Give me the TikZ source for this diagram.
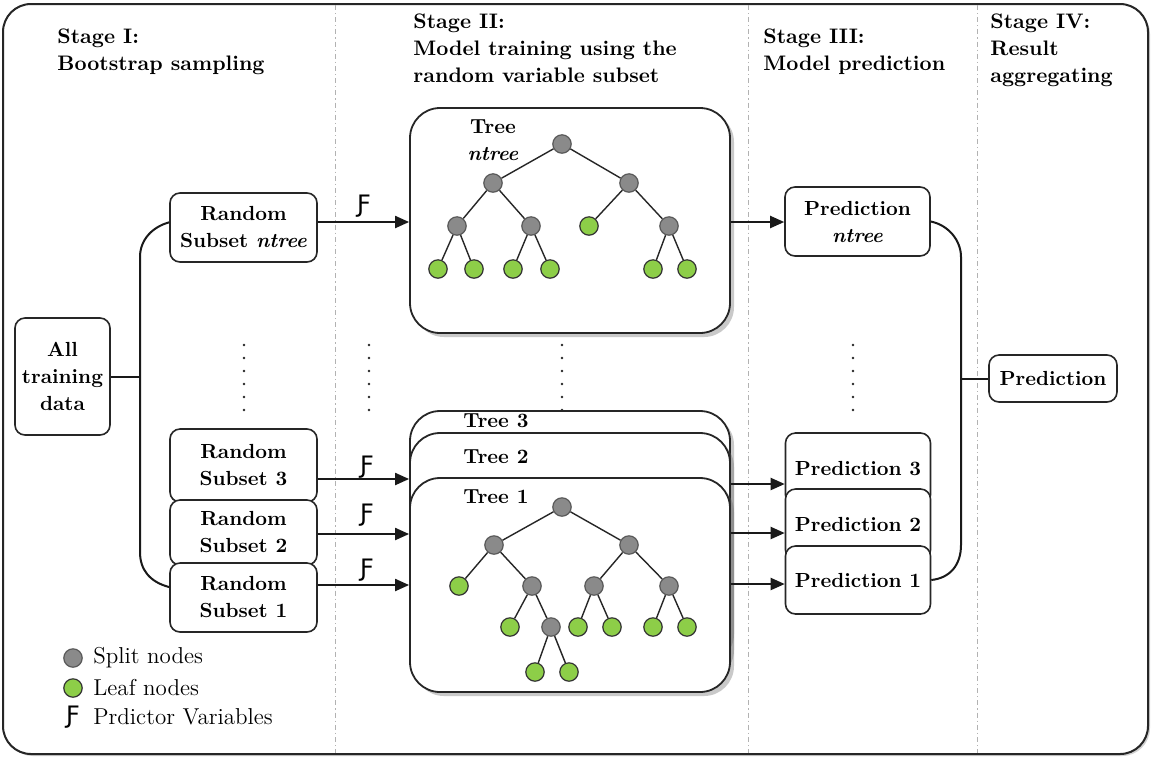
\documentclass[tikz,border=0pt]{standalone}
\usepackage{fontspec}
\newfontfamily\hookfont{DejaVu Sans}
\usetikzlibrary{arrows.meta,shadows}
\newcommand\boxfont{\fontsize{10.2}{13.5}\selectfont\bfseries}
\newcommand\hdrfont{\fontsize{10.5}{13.5}\selectfont\bfseries}
\newcommand\legfont{\fontsize{11.5}{13}\selectfont}
\newcommand\hk{{\hookfont\fontsize{12}{12}\selectfont Ƒ}}
\definecolor{splitgray}{RGB}{138,138,138}
\definecolor{leafgreen}{RGB}{141,206,72}
\begin{document}
\begin{tikzpicture}[x=0.5pt,y=-0.5pt,
  box/.style={draw=black!85, line width=0.8pt, rounded corners=5pt, fill=white,
    align=center, font=\boxfont, inner sep=0pt},
  treebox/.style={draw=black!85, line width=0.9pt, rounded corners=15pt, fill=white,
    inner sep=0pt, minimum width=160pt,
    drop shadow={shadow xshift=2pt, shadow yshift=-2pt, opacity=0.35, fill=black!60}},
  split/.style={circle, draw=black!65, line width=0.6pt, fill=splitgray, minimum size=9.2pt, inner sep=0pt},
  leaf/.style={circle, draw=black!80, line width=0.6pt, fill=leafgreen, minimum size=9.2pt, inner sep=0pt},
  edge/.style={line width=0.7pt, black!85},
  conn/.style={line width=1pt, black!90},
  arr/.style={line width=1pt, black!90, -{Triangle[length=7pt,width=6pt]}},
  sep/.style={line width=0.5pt, gray!60, dash pattern=on 2.5pt off 1.5pt on 0.6pt off 1.5pt},
  hdr/.style={anchor=north west, align=left, font=\hdrfont, inner sep=0pt},
  tlabel/.style={anchor=west, font=\boxfont, inner sep=0pt},
  hooklbl/.style={inner sep=0pt}
]
\useasboundingbox (0,0) rectangle (1151,757);
% outer frame
\draw[line width=1pt, black!85, rounded corners=14pt, fill=white,
  drop shadow={shadow xshift=1pt, shadow yshift=-1pt, opacity=0.3, fill=black!60}]
  (3,4) rectangle (1148,754);
% stage separators
\draw[sep] (335,5) -- (335,753);
\draw[sep] (748,5) -- (748,753);
\draw[sep] (977,5) -- (977,753);
% headers
\node[hdr] (h1) at (57,28) {Stage I:\\Bootstrap sampling};
\node[hdr] (h2) at (413,13) {Stage II:\\Model training using the\\random variable subset};
\node[hdr] (h3) at (763,28) {Stage III:\\Model prediction};
\node[hdr] (h4) at (990,13) {Stage IV:\\Result\\aggregating};

% tree boxes
\node[treebox, minimum height=124.5pt] (t3) at (570,535.5) {};
\node[treebox, minimum height=121.5pt] (t2) at (570,554.5) {};
\node[treebox, minimum height=107pt] (t1) at (570,585) {};
\node[treebox, minimum height=112.5pt] (tn) at (570,220.5) {};
\node[tlabel] (t3l) at (463,421) {Tree 3};
\node[tlabel] (t2l) at (463,457) {Tree 2};
\node[tlabel] (t1l) at (463,497) {Tree 1};
\node[font=\boxfont, align=center, inner sep=0pt] (tnl) at (493,140) {Tree\\\textit{ntree}};

% left nodes
\node[box, minimum width=47.5pt, minimum height=58.5pt] (data) at (62.5,376.5) {All\\training\\data};
\node[box, minimum width=73.5pt, minimum height=36.5pt] (rs3) at (243.5,465.5) {Random\\Subset 3};
\node[box, minimum width=73.5pt, minimum height=32.5pt] (rs2) at (243.5,532.5) {Random\\Subset 2};
\node[box, minimum width=73.5pt, minimum height=34.5pt] (rs1) at (243.5,597.5) {Random\\Subset 1};
\node[box, minimum width=73.5pt, minimum height=34.5pt] (rsn) at (243.5,227.5) {Random\\Subset \textit{ntree}};

% prediction nodes
\node[box, minimum width=72.5pt, minimum height=36pt] (p3) at (858,469) {Prediction 3};
\node[box, minimum width=72.5pt, minimum height=35.5pt] (p2) at (858,524.5) {Prediction 2};
\node[box, minimum width=72.5pt, minimum height=34pt] (p1) at (858,580) {Prediction 1};
\node[box, minimum width=72.5pt, minimum height=34.5pt] (pn) at (857.5,221.5) {Prediction\\\textit{ntree}};
\node[box, minimum width=64pt, minimum height=23.5pt] (fp) at (1053,378.5) {Prediction};

% left bus
\coordinate (lbt) at (140,257);
\coordinate (lbb) at (140,552);
\draw[conn] (rsn.176) .. controls (152,227) and (140,240) .. (lbt) -- (lbb)
  .. controls (140,570) and (150,582) .. (rs1.172);
\draw[conn] (data.east) -- (data.east -| lbt);

% right bus
\coordinate (rbt) at (961,257);
\coordinate (rbb) at (961,545);
\draw[conn] (pn.east) .. controls (948,225) and (961,240) .. (rbt) -- (rbb)
  .. controls (961,565) and (950,578) .. (p1.east);
\draw[conn] (fp.west -| rbt) -- (fp.west);

% arrows stage I -> II
\coordinate (a0) at (0,222);
\coordinate (a3) at (0,479);
\coordinate (a2) at (0,534);
\coordinate (a1) at (0,585);
\draw[arr] (rsn.east |- a0) -- (tn.west |- a0);
\draw[arr] (rs3.east |- a3) -- (t3.west |- a3);
\draw[arr] (rs2.east |- a2) -- (t3.west |- a2);
\draw[arr] (rs1.east |- a1) -- (t3.west |- a1);
\node[hooklbl] (f0) at (364,206) {\hk};
\node[hooklbl] (f3) at (367,467) {\hk};
\node[hooklbl] (f2) at (367,515) {\hk};
\node[hooklbl] (f1) at (367,570) {\hk};

% arrows stage II -> III
\coordinate (b3) at (0,484);
\coordinate (b2) at (0,533);
\coordinate (b1) at (0,584);
\draw[arr] (tn.east |- a0) -- (pn.west |- a0);
\draw[arr] (t3.east |- b3) -- (p3.west |- b3);
\draw[arr] (t3.east |- b2) -- (p3.west |- b2);
\draw[arr] (t3.east |- b1) -- (p3.west |- b1);

% vertical dots
\foreach \x in {244,369,562,853}{
  \foreach \y in {345,358,371,384,397,410}{
    \fill[black!85] (\x,\y) circle (0.65pt);
  }
}

% top tree (ntree)
\node[split] (r0) at (562,144) {};
\node[split] (ra) at (493,183) {};
\node[split] (rb) at (629,183) {};
\node[split] (raa) at (457,226) {};
\node[split] (rab) at (531,226) {};
\node[leaf] (rba) at (589,226) {};
\node[split] (rbb) at (669,226) {};
\node[leaf] (raaa) at (438,269) {};
\node[leaf] (raab) at (474,269) {};
\node[leaf] (raba) at (513,269) {};
\node[leaf] (rabb) at (550,269) {};
\node[leaf] (rbba) at (653,269) {};
\node[leaf] (rbbb) at (687,269) {};
\draw[edge] (r0)--(ra) (r0)--(rb) (ra)--(raa) (ra)--(rab) (rb)--(rba) (rb)--(rbb)
  (raa)--(raaa) (raa)--(raab) (rab)--(raba) (rab)--(rabb) (rbb)--(rbba) (rbb)--(rbbb);

% tree 1
\node[split] (s0) at (562,507) {};
\node[split] (sa) at (494,545) {};
\node[split] (sb) at (629,545) {};
\node[leaf] (saa) at (459,586) {};
\node[split] (sab) at (532,586) {};
\node[split] (sba) at (594,586) {};
\node[split] (sbb) at (669,586) {};
\node[leaf] (saba) at (510,627) {};
\node[split] (sabb) at (551,627) {};
\node[leaf] (sbaa) at (578,627) {};
\node[leaf] (sbab) at (612,627) {};
\node[leaf] (sbba) at (653,627) {};
\node[leaf] (sbbb) at (687,627) {};
\node[leaf] (sabba) at (535,672) {};
\node[leaf] (sabbb) at (569,672) {};
\draw[edge] (s0)--(sa) (s0)--(sb) (sa)--(saa) (sa)--(sab) (sb)--(sba) (sb)--(sbb)
  (sab)--(saba) (sab)--(sabb) (sba)--(sbaa) (sba)--(sbab) (sbb)--(sbba) (sbb)--(sbbb)
  (sabb)--(sabba) (sabb)--(sabbb);

% legend
\node[split] (lg1) at (73,658) {};
\node[leaf] (lg2) at (73,688) {};
\node[hooklbl] (lg3) at (73,717) {\hk};
\node[anchor=west, font=\legfont, inner sep=0pt] (lt1) at (93,658) {Split nodes};
\node[anchor=west, font=\legfont, inner sep=0pt] (lt2) at (93,688) {Leaf nodes};
\node[anchor=west, font=\legfont, inner sep=0pt] (lt3) at (93,717) {Prdictor Variables};
\end{tikzpicture}
\end{document}
